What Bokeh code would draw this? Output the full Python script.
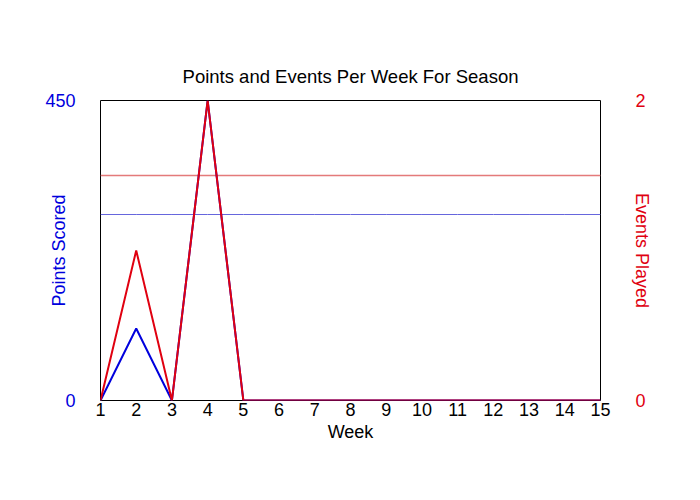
from bokeh.plotting import figure
from bokeh.models import Range1d, LinearAxis, FixedTicker
from bokeh.embed import file_html
from bokeh.resources import INLINE

weeks = list(range(1, 16))
points = [0, 108, 0, 450, 0, 0, 0, 0, 0, 0, 0, 0, 0, 0, 0]
events = [0, 1, 0, 2, 0, 0, 0, 0, 0, 0, 0, 0, 0, 0, 0]
week_ticks = list(range(1, 16))
points_ticks = [0, 450]
events_ticks = [0, 2]

played = [p for p, e in zip(points, events) if e > 0]
avg_points = sum(played) / len(played)
avg_events = sum(e for e in events if e > 0) / len(played)

BLUE = "#0000dd"
RED = "#e00010"
FONT = "Liberation Sans"
FS = "18px"

p = figure(width=700, height=500, frame_width=500, frame_height=300,
           min_border_left=100, min_border_right=100, min_border_top=100, min_border_bottom=100,
           x_range=Range1d(1, 15), y_range=Range1d(0, 450),
           output_backend="svg", toolbar_location=None,
           title="Points and Events Per Week For Season")
p.extra_y_ranges = {"events": Range1d(0, 2)}

p.title.align = "center"
p.title.text_font = FONT
p.title.text_font_size = "18.5px"
p.title.text_font_style = "normal"
p.title.text_color = "black"
p.title.standoff = 27

p.grid.visible = False
p.outline_line_color = "black"
p.outline_line_width = 1
p.background_fill_color = "white"
p.border_fill_color = "white"

# bottom axis
xa = p.xaxis[0]
xa.ticker = FixedTicker(ticks=week_ticks)
xa.axis_label = "Week"
xa.axis_line_color = None
xa.major_tick_line_color = None
xa.minor_tick_line_color = None
xa.major_tick_out = 0
xa.major_tick_in = 0
xa.major_label_standoff = 2
xa.axis_label_standoff = 3
xa.major_label_text_font = FONT
xa.major_label_text_font_size = FS
xa.major_label_text_color = "black"
xa.axis_label_text_font = FONT
xa.axis_label_text_font_size = FS
xa.axis_label_text_font_style = "normal"
xa.axis_label_text_color = "black"

# left axis
ya = p.yaxis[0]
ya.ticker = FixedTicker(ticks=points_ticks)
ya.axis_label = "Points Scored"
ya.axis_line_color = None
ya.major_tick_line_color = None
ya.minor_tick_line_color = None
ya.major_tick_out = 0
ya.major_tick_in = 0
ya.major_label_standoff = 25
ya.axis_label_standoff = -27
ya.major_label_text_font = FONT
ya.major_label_text_font_size = FS
ya.major_label_text_color = BLUE
ya.axis_label_text_font = FONT
ya.axis_label_text_font_size = FS
ya.axis_label_text_font_style = "normal"
ya.axis_label_text_color = BLUE

# right axis
ra = LinearAxis(y_range_name="events", ticker=FixedTicker(ticks=events_ticks),
                axis_label="Events Played")
ra.axis_line_color = None
ra.major_tick_line_color = None
ra.minor_tick_line_color = None
ra.major_tick_out = 0
ra.major_tick_in = 0
ra.major_label_standoff = 35
ra.axis_label_standoff = -17
ra.major_label_text_font = FONT
ra.major_label_text_font_size = FS
ra.major_label_text_color = RED
ra.axis_label_text_font = FONT
ra.axis_label_text_font_size = FS
ra.axis_label_text_font_style = "normal"
ra.axis_label_text_color = RED
p.add_layout(ra, "right")

# average lines (mean over weeks played)
p.line(weeks, [avg_points] * len(weeks), line_color="#6666dd", line_width=1)
p.line(weeks, [avg_events] * len(weeks), y_range_name="events",
       line_color="#e47a7a", line_width=1.3)

p.line(weeks, points, line_color=BLUE, line_width=2)
p.line(weeks, events, y_range_name="events", line_color=RED, line_width=2)

open("out.html", "w").write(file_html(p, INLINE))
